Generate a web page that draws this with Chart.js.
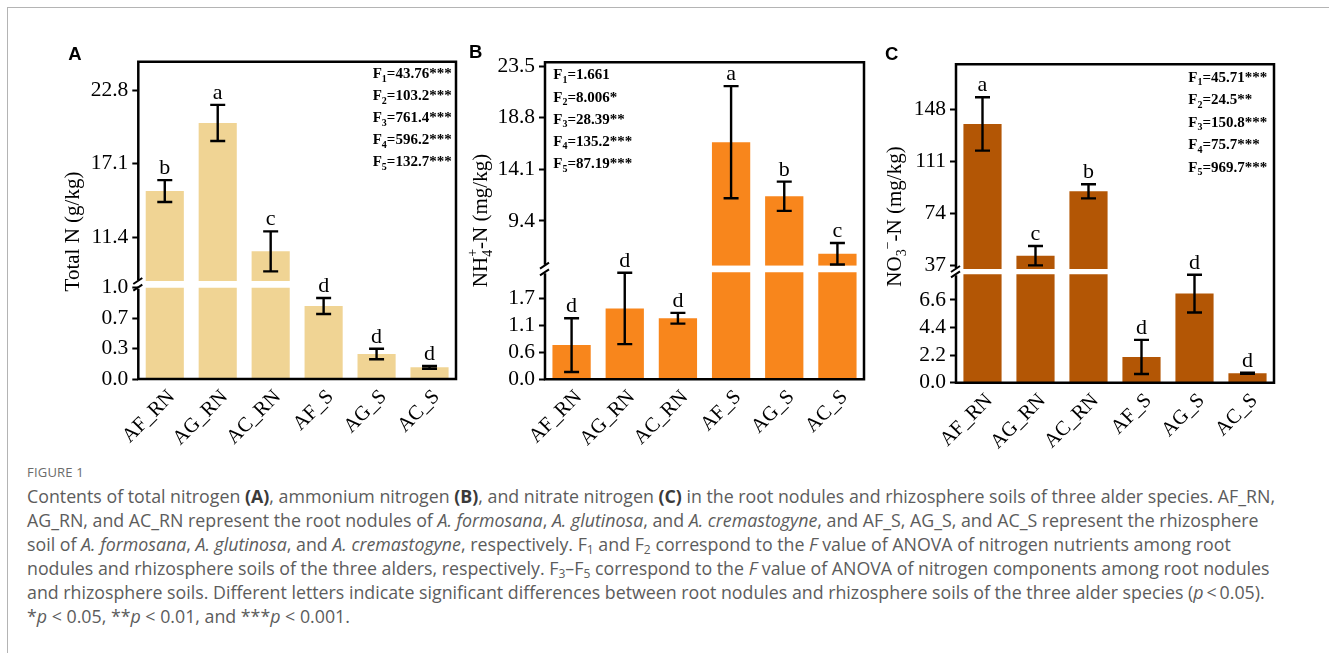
<!DOCTYPE html>
<html>
<head>
<meta charset="utf-8">
<script src="https://cdn.jsdelivr.net/npm/chart.js@4.4.1/dist/chart.umd.min.js"></script>
<style>
  html, body { margin: 0; padding: 0; background: #fff; }
  #page { position: relative; width: 1329px; height: 653px; overflow: hidden; background: #fff; }
  #borderTop { position: absolute; left: 7px; top: 7px; right: 0; height: 1px; background: #b4b4b4; }
  #borderLeft { position: absolute; left: 7px; top: 7px; width: 1px; bottom: 0; background: #b4b4b4; }
  canvas { position: absolute; }
  #figLabel { position: absolute; left: 27px; top: 463px; font: 500 13px "Open Sans", "Noto Sans", sans-serif; color: #6b6b6b; letter-spacing: 0.2px; }
  #caption { position: absolute; left: 27px; top: 484px; font: 17.8px/24px "Open Sans", "Noto Sans", sans-serif; color: #5c5c5c; white-space: nowrap; }
  #caption b { font-weight: 700; color: #3a3a3a; }
  #caption sub { font-size: 0.68em; line-height: 0; vertical-align: -0.25em; }
</style>
</head>
<body>
<div id="page">
  <div id="borderTop"></div>
  <div id="borderLeft"></div>
  <canvas id="chartA" width="425" height="410" style="left:40px;top:40px"></canvas>
  <canvas id="chartB" width="425" height="410" style="left:450px;top:40px"></canvas>
  <canvas id="chartC" width="425" height="410" style="left:860px;top:40px"></canvas>
  <div id="figLabel">FIGURE 1</div>
  <div id="caption">Contents of total nitrogen <b>(A)</b>, ammonium nitrogen <b>(B)</b>, and nitrate nitrogen <b>(C)</b> in the root nodules and rhizosphere soils of three alder species. AF_RN,<br>AG_RN, and AC_RN represent the root nodules of <i>A. formosana</i>, <i>A. glutinosa</i>, and <i>A. cremastogyne</i>, and AF_S, AG_S, and AC_S represent the rhizosphere<br>soil of <i>A. formosana</i>, <i>A. glutinosa</i>, and <i>A. cremastogyne</i>, respectively. F<sub>1</sub> and F<sub>2</sub> correspond to the <i>F</i> value of ANOVA of nitrogen nutrients among root<br>nodules and rhizosphere soils of the three alders, respectively. F<sub>3</sub>–F<sub>5</sub> correspond to the <i>F</i> value of ANOVA of nitrogen components among root nodules<br>and rhizosphere soils. Different letters indicate significant differences between root nodules and rhizosphere soils of the three alder species (<i>p</i>&thinsp;&lt;&thinsp;0.05).<br>*<i>p</i> &lt; 0.05, **<i>p</i> &lt; 0.01, and ***<i>p</i> &lt; 0.001.</div>
</div>
<script>
// ---------------- DATA ----------------
const categories = ['AF_RN', 'AG_RN', 'AC_RN', 'AF_S', 'AG_S', 'AC_S'];

// Panel A: Total N (g/kg)
const totalN        = [14.97, 20.25, 10.30, 0.80, 0.274, 0.128];
const totalNErr     = [0.85, 1.40, 1.55, 0.088, 0.058, 0.015];
const totalNLetters = ['b', 'a', 'c', 'd', 'd', 'd'];
const totalNF       = ['43.76***', '103.2***', '761.4***', '596.2***', '132.7***'];
const totalNUpperRange      = [8.0, 25.0];
const totalNUpperTicks      = [11.4, 17.1, 22.8];
const totalNUpperTickLabels = ['11.4', '17.1', '22.8'];
const totalNLowerRange      = [0, 1.0];
const totalNLowerTicks      = [0, 0.333, 0.667, 1.0];
const totalNLowerTickLabels = ['0.0', '0.3', '0.7', '1.0'];

// Panel B: NH4+-N (mg/kg)
const ammoniumN        = [0.70, 1.45, 1.25, 16.57, 11.65, 6.42];
const ammoniumNErr     = [0.55, 0.73, 0.11, 5.10, 1.33, 0.98];
const ammoniumNLetters = ['d', 'd', 'd', 'a', 'b', 'c'];
const ammoniumNF       = ['1.661', '8.006*', '28.39**', '135.2***', '87.19***'];
const ammoniumNUpperRange      = [5.33, 23.84];
const ammoniumNUpperTicks      = [9.4, 14.1, 18.8, 23.5];
const ammoniumNUpperTickLabels = ['9.4', '14.1', '18.8', '23.5'];
const ammoniumNLowerRange      = [0, 2.19];
const ammoniumNLowerTicks      = [0, 0.55, 1.1, 1.65];
const ammoniumNLowerTickLabels = ['0.0', '0.6', '1.1', '1.7'];

// Panel C: NO3--N (mg/kg)
const nitrateN        = [137.5, 43.6, 89.5, 2.05, 7.1, 0.75];
const nitrateNErr     = [19.0, 6.9, 5.0, 1.36, 1.5, 0.05];
const nitrateNLetters = ['a', 'c', 'b', 'd', 'd', 'd'];
const nitrateNF       = ['45.71***', '24.5**', '150.8***', '75.7***', '969.7***'];
const nitrateNUpperRange      = [34.15, 180.0];
const nitrateNUpperTicks      = [37, 74, 111, 148];
const nitrateNUpperTickLabels = ['37', '74', '111', '148'];
const nitrateNLowerRange      = [0, 8.64];
const nitrateNLowerTicks      = [0, 2.2, 4.4, 6.6];
const nitrateNLowerTickLabels = ['0.0', '2.2', '4.4', '6.6'];

// ---------------- STYLE / LAYOUT ----------------
const SERIF = '"Liberation Serif", "Times New Roman", serif';
const SANS = '"Liberation Sans", Arial, sans-serif';

const panels = [
  {
    id: 'chartA', letter: 'A', letterPos: [28.3, 20],
    values: totalN, err: totalNErr, letters: totalNLetters, stats: totalNF,
    upper: totalNUpperRange, upperTicks: totalNUpperTicks, upperLabels: totalNUpperTickLabels,
    lower: totalNLowerRange, lowerTicks: totalNLowerTicks, lowerLabels: totalNLowerTickLabels,
    title: [{t: 'Total N (g/kg)', s: 21}],
    plot: {l: 98.3, t: 21.7, r: 416, b: 339}, upperPx: 219.3, lowerPx: 98, gapPx: 6.7,
    color: '#F0D494', titleX: -59.3, titleCY: 169.8, statsX: 234.4, statsY: 16.6, statsDY: 22
  },
  {
    id: 'chartB', letter: 'B', letterPos: [19, 18.3],
    values: ammoniumN, err: ammoniumNErr, letters: ammoniumNLetters, stats: ammoniumNF,
    upper: ammoniumNUpperRange, upperTicks: ammoniumNUpperTicks, upperLabels: ammoniumNUpperTickLabels,
    lower: ammoniumNLowerRange, lowerTicks: ammoniumNLowerTicks, lowerLabels: ammoniumNLowerTickLabels,
    title: [{t: 'NH', s: 21}, {t: '4', s: 14, dy: 5}, {t: '+', s: 14, dy: -10, same: true}, {t: '-N (mg/kg)', s: 21}],
    plot: {l: 95, t: 22.3, r: 414, b: 339.3}, upperPx: 203.4, lowerPx: 113.6, gapPx: 6.6,
    color: '#F8861C', titleX: -58, titleCY: 158.2, statsX: 8.3, statsY: 17, statsDY: 22.2
  },
  {
    id: 'chartC', letter: 'C', letterPos: [25, 20],
    values: nitrateN, err: nitrateNErr, letters: nitrateNLetters, stats: nitrateNF,
    upper: nitrateNUpperRange, upperTicks: nitrateNUpperTicks, upperLabels: nitrateNUpperTickLabels,
    lower: nitrateNLowerRange, lowerTicks: nitrateNLowerTicks, lowerLabels: nitrateNLowerTickLabels,
    title: [{t: 'NO', s: 21}, {t: '3', s: 14, dy: 5}, {t: '\u2212', s: 14, dy: -9}, {t: '-N (mg/kg)', s: 21}],
    plot: {l: 96, t: 24.3, r: 414, b: 342.7}, upperPx: 204.7, lowerPx: 113.7, gapPx: 5.3,
    color: '#B35605', titleX: -55, titleCY: 152.2, statsX: 232.3, statsY: 17.4, statsDY: 22.5
  }
];

// ---------------- PLUGIN ----------------
const decorate = {
  id: 'decorate',
  afterDatasetsDraw(chart, args, opts) {
    const p = opts.panel;
    if (!p) return;
    const {ctx, chartArea: ca, scales} = chart;
    const xs = scales.x, yu = scales.yu, yl = scales.yl;
    ctx.save();

    // frame with broken left spine
    const L = ca.left, R = ca.right, T = ca.top, B = ca.bottom;
    const gapTop = yu.getPixelForValue(p.upper[0]);
    const gapBot = yl.getPixelForValue(p.lower[1]);
    ctx.strokeStyle = '#000';
    ctx.lineWidth = 2.5;
    ctx.lineJoin = 'miter';
    ctx.beginPath();
    ctx.moveTo(L, gapTop - 1);
    ctx.lineTo(L, T);
    ctx.lineTo(R, T);
    ctx.lineTo(R, B);
    ctx.lineTo(L, B);
    ctx.lineTo(L, gapBot + 1);
    ctx.stroke();
    ctx.lineWidth = 2;
    ctx.beginPath();
    [gapTop, gapBot].forEach(y => {
      ctx.moveTo(L - 5, y + 3);
      ctx.lineTo(L + 4, y - 3);
    });
    ctx.stroke();

    // error bars and significance letters
    const cap = 7.5;
    ctx.lineWidth = 2.4;
    ctx.textAlign = 'center';
    ctx.textBaseline = 'alphabetic';
    ctx.fillStyle = '#000';
    p.values.forEach((v, i) => {
      const s = v > p.upper[0] ? yu : yl;
      const cx = xs.getPixelForValue(i);
      const yTop = s.getPixelForValue(v + p.err[i]);
      const yBot = s.getPixelForValue(v - p.err[i]);
      ctx.beginPath();
      ctx.moveTo(cx, yTop); ctx.lineTo(cx, yBot);
      ctx.moveTo(cx - cap, yTop); ctx.lineTo(cx + cap, yTop);
      ctx.moveTo(cx - cap, yBot); ctx.lineTo(cx + cap, yBot);
      ctx.stroke();
      ctx.font = '22px ' + SERIF;
      ctx.fillText(p.letters[i], cx, yTop - 6);
    });

    // F statistics
    ctx.textAlign = 'left';
    p.stats.forEach((txt, i) => {
      let x = L + p.statsX;
      const y = T + p.statsY + i * p.statsDY;
      ctx.font = 'bold 15px ' + SERIF;
      ctx.fillText('F', x, y);
      x += ctx.measureText('F').width;
      ctx.font = 'bold 10px ' + SERIF;
      ctx.fillText(String(i + 1), x, y + 3.5);
      x += ctx.measureText(String(i + 1)).width;
      ctx.font = 'bold 15px ' + SERIF;
      ctx.fillText('=' + txt, x, y);
    });

    // y-axis title (rotated)
    let total = 0, prevW = 0;
    p.title.forEach(piece => {
      ctx.font = piece.s + 'px ' + SERIF;
      const w = ctx.measureText(piece.t).width;
      total += piece.same ? Math.max(0, w - prevW) : w;
      if (!piece.same) prevW = w;
    });
    ctx.save();
    ctx.translate(L + p.titleX, T + p.titleCY);
    ctx.rotate(-Math.PI / 2);
    let tx = -total / 2, start = tx;
    prevW = 0;
    p.title.forEach(piece => {
      ctx.font = piece.s + 'px ' + SERIF;
      const w = ctx.measureText(piece.t).width;
      if (piece.same) {
        ctx.fillText(piece.t, start, piece.dy || 0);
        tx = start + Math.max(w, prevW);
      } else {
        start = tx;
        ctx.fillText(piece.t, tx, piece.dy || 0);
        tx += w;
        prevW = w;
      }
    });
    ctx.restore();

    // panel letter
    ctx.font = 'bold 18.5px ' + SANS;
    ctx.textAlign = 'left';
    ctx.fillText(p.letter, p.letterPos[0], p.letterPos[1]);
    ctx.restore();
  }
};

// ---------------- CHARTS ----------------
panels.forEach(p => {
  const canvas = document.getElementById(p.id);
  const W = canvas.width, H = canvas.height;
  const lowerMax = p.lower[1] * p.lowerPx / (p.lowerPx - p.gapPx);
  const tickFont = {family: SERIF, size: 21.5};
  const yCommon = (ticks, labels) => ({
    type: 'linear',
    position: 'left',
    stack: 'panel',
    border: {display: false},
    grid: {drawOnChartArea: false, drawTicks: true, tickLength: 6, tickWidth: 2, tickColor: '#000', color: '#000'},
    ticks: {font: tickFont, color: '#000', padding: 4, autoSkip: false, callback: (v, i) => labels[i]},
    afterBuildTicks: s => { s.ticks = ticks.map(v => ({value: v})); },
    afterFit: s => { s.width = p.plot.l; }
  });
  new Chart(canvas, {
    type: 'bar',
    data: {
      labels: categories,
      datasets: [
        {
          data: p.values.map(v => [0, Math.min(v, p.lower[1])]),
          yAxisID: 'yl', backgroundColor: p.color, borderWidth: 0,
          grouped: false, barPercentage: 0.72, categoryPercentage: 1
        },
        {
          data: p.values.map(v => v > p.upper[0] ? [p.upper[0], v] : null),
          yAxisID: 'yu', backgroundColor: p.color, borderWidth: 0,
          grouped: false, barPercentage: 0.72, categoryPercentage: 1
        }
      ]
    },
    options: {
      responsive: false,
      animation: false,
      devicePixelRatio: 1,
      layout: {padding: {left: 0, top: p.plot.t, right: W - p.plot.r, bottom: 0}},
      plugins: {legend: {display: false}, tooltip: {enabled: false}, decorate: {panel: p}},
      scales: {
        x: {
          type: 'category',
          border: {display: false},
          grid: {display: false, drawTicks: false},
          ticks: {font: {family: SERIF, size: 20.5}, color: '#000', minRotation: 45, maxRotation: 45, autoSkip: false, padding: 6, labelOffset: 7},
          afterFit: s => { s.height = H - p.plot.b; }
        },
        yu: Object.assign(yCommon(p.upperTicks, p.upperLabels), {
          min: p.upper[0], max: p.upper[1], stackWeight: p.upperPx, weight: 1
        }),
        yl: Object.assign(yCommon(p.lowerTicks, p.lowerLabels), {
          min: 0, max: lowerMax, stackWeight: p.lowerPx, weight: 0
        })
      }
    },
    plugins: [decorate]
  });
});
</script>
</body>
</html>
